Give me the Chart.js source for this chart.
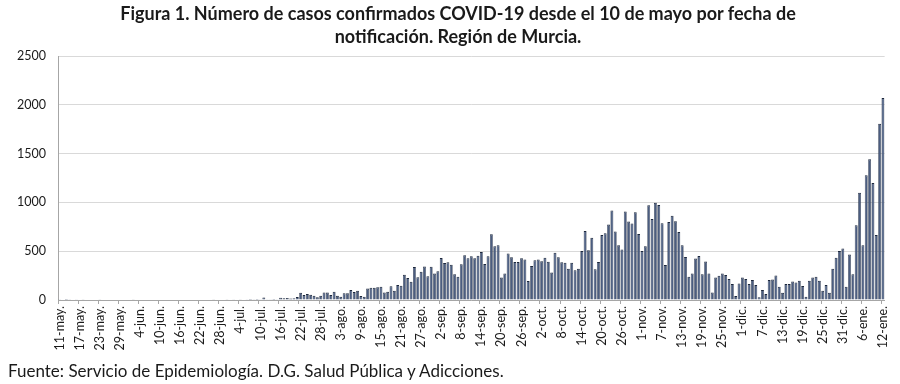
<!DOCTYPE html>
<html>
<head>
<meta charset="utf-8">
<script src="https://cdn.jsdelivr.net/npm/chart.js@4/dist/chart.umd.min.js"></script>
<style>
  html, body { margin: 0; padding: 0; background: #ffffff; }
  #wrap { position: relative; width: 900px; height: 384px; overflow: hidden; }
  #title { position: absolute; left: 8px; top: 2px; width: 900px; text-align: center;
           font-family: Lato, "Open Sans", sans-serif; font-weight: bold; font-size: 18px;
           line-height: 23px; color: #1a1a1a; }
  #source { position: absolute; left: 8px; top: 360px; font-family: Lato, "Open Sans", sans-serif;
            font-size: 17px; color: #1a1a1a; }
  canvas { position: absolute; left: 0; top: 0; }
</style>
</head>
<body>
<div id="wrap">
  <canvas id="c" width="900" height="384"></canvas>
  <div id="title">Figura 1. Número de casos confirmados COVID-19 desde el 10 de mayo por fecha de<br>notificación. Región de Murcia.</div>
  <div id="source">Fuente: Servicio de Epidemiología. D.G. Salud Pública y Adicciones.</div>
</div>
<script>
// Month segments (Spanish abbreviations) from 11 May 2020 to 12 Jan 2021
const monthNames = ["may.", "jun.", "jul.", "ago.", "sep.", "oct.", "nov.", "dic.", "ene."];
const monthStartDay = [11, 1, 1, 1, 1, 1, 1, 1, 1];
const monthEndDay = [31, 30, 31, 31, 30, 31, 30, 31, 12];

// Daily confirmed cases, by month
const casesMay = [8,6,9,7,5,8,6,7,5,0,6,5,7,6,4,0,5,6,4,0,0];
const casesJun = [5,7,6,4,6,5,0,6,5,4,0,0,4,0,0,5,4,6,5,4,6,0,5,6,4,7,5,6,5,7];
const casesJul = [6,8,5,7,6,8,9,7,10,8,25,8,8,10,8,24,17,20,15,18,30,75,51,61,55,44,27,44,78,78,51];
const casesAgo = [85,44,34,68,68,102,82,95,41,34,119,126,126,130,136,78,85,140,95,153,145,258,225,187,337,233,289,343,243,340,272];
const casesSep = [295,430,378,388,362,265,238,367,458,427,449,428,454,492,370,447,673,551,561,230,272,476,438,390,390,428,415,195,348,408];
const casesOct = [415,398,432,391,282,483,438,387,381,320,381,305,320,503,707,510,639,316,390,667,684,773,918,702,560,517,908,805,785,898,677];
const casesNov = [502,551,970,830,996,974,787,358,798,864,808,697,561,440,238,272,425,450,265,395,272,78,231,248,272,255,214,163,41,170];
const casesDic = [231,214,163,204,153,27,102,61,204,211,252,136,75,163,163,190,180,197,143,34,197,231,238,197,95,153,75,320,433,503,527];
const casesEne = [136,467,263,766,1100,562,1278,1441,1200,665,1806,2070];

const yTicks = [0, 500, 1000, 1500, 2000, 2500];
const labelEvery = 6;

const labels = [];
monthNames.forEach((m, i) => {
  for (let d = monthStartDay[i]; d <= monthEndDay[i]; d++) labels.push(d + "-" + m);
});
const values = [].concat(casesMay, casesJun, casesJul, casesAgo, casesSep, casesOct, casesNov, casesDic, casesEne);

new Chart(document.getElementById("c"), {
  type: "bar",
  data: {
    labels: labels,
    datasets: [{
      data: values,
      backgroundColor: "#4b5d80",
      borderColor: "#1c273b",
      borderWidth: { top: 1, left: 0.6, right: 0.6, bottom: 0 },
      borderSkipped: "bottom",
      barPercentage: 0.86,
      categoryPercentage: 1.0
    }]
  },
  options: {
    responsive: false,
    animation: false,
    devicePixelRatio: 1,
    layout: { padding: { top: 56, right: 14, left: 0, bottom: 0 } },
    plugins: { legend: { display: false }, tooltip: { enabled: false }, title: { display: false } },
    scales: {
      x: {
        offset: true,
        afterFit: (s) => { s.height = 84; },
        grid: {
          offset: true,
          drawOnChartArea: false,
          drawTicks: true,
          tickLength: 4,
          color: (ctx) => (ctx.index % labelEvery === 0 ? "#a6a6a6" : "rgba(0,0,0,0)")
        },
        border: { display: true, color: "#a6a6a6", width: 1 },
        ticks: {
          autoSkip: false,
          maxRotation: 90,
          minRotation: 90,
          padding: 2,
          color: "#1a1a1a",
          font: { family: "Lato", size: 12.5 },
          callback: function (v, i) { return i % labelEvery === 0 ? labels[i] : ""; }
        }
      },
      y: {
        min: 0,
        max: 2500,
        afterFit: (s) => { s.width = 58; },
        afterBuildTicks: (s) => { s.ticks = yTicks.map(v => ({ value: v })); },
        grid: { color: "#d9d9d9", lineWidth: 1, drawTicks: false },
        border: { display: true, color: "#a6a6a6", width: 1 },
        ticks: {
          padding: 12,
          color: "#1a1a1a",
          font: { family: "Lato", size: 12.5 },
          callback: (v) => String(v)
        }
      }
    }
  }
});
</script>
</body>
</html>
